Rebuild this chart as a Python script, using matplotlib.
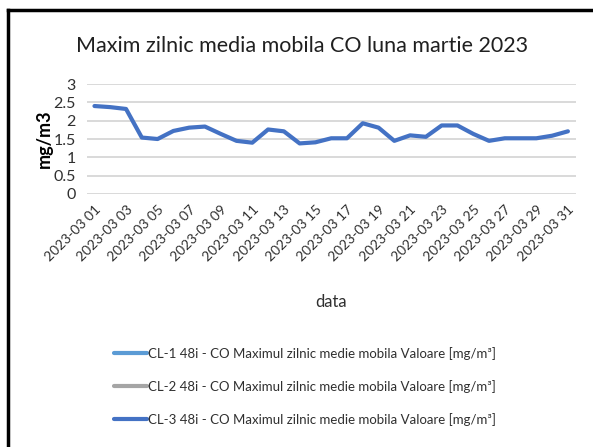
import matplotlib.pyplot as plt
from matplotlib.lines import Line2D

plt.rcParams['font.family'] = ['Lato', 'DejaVu Sans']

# date zilnice martie 2023
zile = [f'2023-03 {d:02d}' for d in range(1, 32)]
cl3 = [2.40, 2.37, 2.32, 1.54, 1.50, 1.72, 1.81, 1.84, 1.64, 1.45,
       1.40, 1.76, 1.71, 1.38, 1.41, 1.52, 1.52, 1.93, 1.81, 1.45,
       1.60, 1.56, 1.87, 1.87, 1.64, 1.45, 1.52, 1.52, 1.52, 1.59, 1.71]
cl1 = []
cl2 = []
serii = ['CL-1 48i - CO Maximul zilnic medie mobila Valoare [mg/m³]',
         'CL-2 48i - CO Maximul zilnic medie mobila Valoare [mg/m³]',
         'CL-3 48i - CO Maximul zilnic medie mobila Valoare [mg/m³]']
yticks = [0, 0.5, 1, 1.5, 2, 2.5, 3]

fig = plt.figure(figsize=(5.93, 4.47), dpi=100)
ax = fig.add_axes([0.146, 0.566, 0.825, 0.246])

x = list(range(len(zile)))
ax.plot(x[:len(cl1)], cl1, color='#5B9BD5', lw=3, label=serii[0], solid_capstyle='round')
ax.plot(x[:len(cl2)], cl2, color='#A5A5A5', lw=3, label=serii[1], solid_capstyle='round')
ax.plot(x, cl3, color='#4472C4', lw=3, label=serii[2], solid_capstyle='round')

ax.set_xlim(-0.5, len(zile) - 0.5)
ax.set_ylim(0, 3)
ax.set_yticks(yticks)
ax.set_yticklabels(['0', '0.5', '1', '1.5', '2', '2.5', '3'])
ax.set_xticks(x[::2])
ax.set_xticklabels(zile[::2], rotation=45, ha='right', rotation_mode='anchor')
ax.tick_params(axis='x', length=0, labelsize=10, colors='#303030', pad=7)
ax.tick_params(axis='y', length=0, labelsize=11.5, colors='#303030', pad=8)
ax.grid(axis='y', color='#D9D9D9', lw=1.4)
ax.set_axisbelow(True)
for s in ax.spines.values():
    s.set_visible(False)

ax.set_xlabel('data', fontsize=12, color='#303030', labelpad=22)
ax.set_ylabel('mg/m3', fontsize=13, color='black', fontweight='bold', labelpad=0)
fig.text(0.51, 0.896, 'Maxim zilnic media mobila CO luna martie 2023',
         ha='center', va='center', fontsize=15.5, color='#202020')

fig.legend(loc='upper left', bbox_to_anchor=(0.172, 0.25), frameon=False,
           fontsize=9.5, handlelength=2.5, handletextpad=0.1, labelspacing=1.5,
           labelcolor='#303030')

# chenar
fig.add_artist(Line2D([0.0135, 0.0135], [0, 0.978], color='black', lw=2.5))
fig.add_artist(Line2D([0.0135, 1.0], [0.978, 0.978], color='black', lw=2.5))

fig.savefig('out.png', dpi=100)
